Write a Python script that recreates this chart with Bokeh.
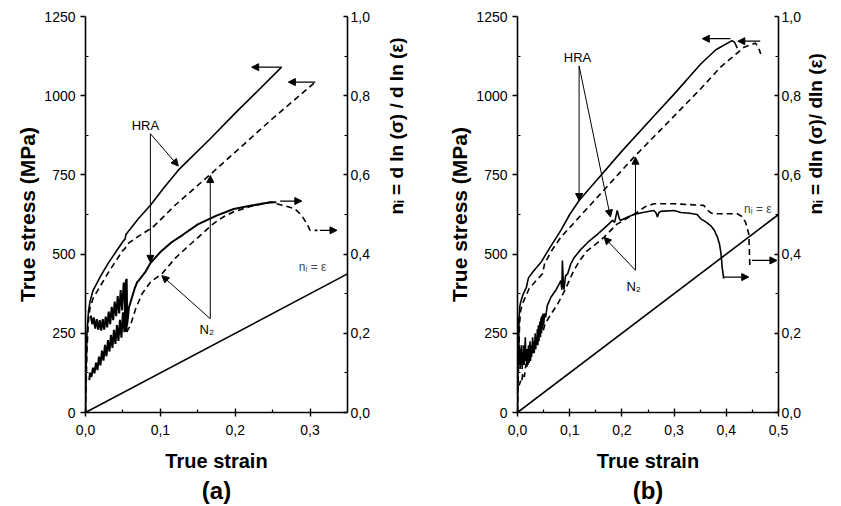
import math
from bokeh.plotting import figure
from bokeh.layouts import row
from bokeh.models import (Range1d, LinearAxis, FixedTicker, CustomJSTickFormatter,
                          Arrow, NormalHead, Label, Title)
from bokeh.embed import file_html
from bokeh.resources import INLINE

FONT = "Liberation Sans"

# ---------------- panel (a) data ----------------
A_HRA_STRESS_X = [0, 0.001, 0.002, 0.004, 0.006, 0.010, 0.020, 0.030, 0.040, 0.050, 0.053, 0.054,
                  0.070, 0.087, 0.105, 0.124, 0.167, 0.200, 0.230, 0.262]
A_HRA_STRESS_Y = [0, 150, 250, 320, 350, 385, 430, 470, 505, 540, 548, 562,
                  610, 655, 710, 765, 865, 945, 1015, 1090]

A_N2_STRESS_X = [0, 0.002, 0.004, 0.006, 0.010, 0.020, 0.030, 0.050, 0.053, 0.055, 0.070, 0.090,
                 0.120, 0.167, 0.200, 0.250, 0.307]
A_N2_STRESS_Y = [0, 200, 290, 330, 360, 400, 440, 512, 518, 530, 555, 585,
                 655, 752, 822, 928, 1043]

A_HRA_N_X = [0.007, 0.009, 0.011, 0.013, 0.015, 0.017, 0.019, 0.021, 0.023, 0.025, 0.027, 0.029,
             0.031, 0.033, 0.035, 0.037, 0.039, 0.041, 0.043, 0.045, 0.047, 0.049, 0.051, 0.053,
             0.054, 0.0545, 0.055, 0.0555, 0.057, 0.058, 0.062, 0.066, 0.069, 0.071, 0.080, 0.087,
             0.100, 0.115, 0.131, 0.150, 0.175, 0.198, 0.220, 0.247, 0.255]
A_HRA_N_Y = [0.245, 0.223, 0.240, 0.212, 0.236, 0.209, 0.233, 0.207, 0.236, 0.209, 0.242, 0.215,
             0.255, 0.223, 0.267, 0.233, 0.280, 0.243, 0.294, 0.250, 0.309, 0.258, 0.328, 0.268,
             0.336, 0.250, 0.338, 0.220, 0.245, 0.265, 0.290, 0.315, 0.329, 0.333, 0.355, 0.378,
             0.405, 0.430, 0.450, 0.475, 0.497, 0.514, 0.522, 0.531, 0.531]

A_N2_NBAND_X = [0.005, 0.006, 0.008, 0.010, 0.012, 0.014, 0.016, 0.018, 0.020, 0.022, 0.024, 0.026,
                0.028, 0.030, 0.032, 0.034, 0.036, 0.038, 0.040, 0.042, 0.044, 0.046, 0.048, 0.050,
                0.052, 0.053, 0.054, 0.0547, 0.055]
A_N2_NBAND_Y = [0.082, 0.100, 0.090, 0.113, 0.099, 0.126, 0.107, 0.141, 0.119, 0.156, 0.131, 0.171,
                0.142, 0.183, 0.154, 0.196, 0.163, 0.209, 0.173, 0.221, 0.181, 0.234, 0.189, 0.253,
                0.203, 0.280, 0.205, 0.308, 0.203]

A_N2_N_X = [0.055, 0.060, 0.067, 0.0756, 0.087, 0.098, 0.102, 0.120, 0.136, 0.155, 0.171, 0.185,
            0.198, 0.220, 0.247, 0.264, 0.280, 0.289, 0.296, 0.300, 0.310]
A_N2_N_Y = [0.203, 0.220, 0.262, 0.300, 0.330, 0.345, 0.350, 0.390, 0.418, 0.450, 0.477, 0.495,
            0.507, 0.520, 0.531, 0.523, 0.514, 0.497, 0.476, 0.460, 0.460]

A_EPS_X = [0, 0.35]
A_EPS_N = [0, 0.35]

# ---------------- panel (b) data ----------------
B_HRA_STRESS_X = [0, 0.001, 0.002, 0.004, 0.006, 0.010, 0.017, 0.019, 0.021, 0.030, 0.045, 0.060,
                  0.083, 0.100, 0.118, 0.150, 0.200, 0.261, 0.300, 0.351, 0.380, 0.411, 0.416, 0.421]
B_HRA_STRESS_Y = [0, 150, 260, 330, 348, 370, 395, 410, 425, 445, 474, 515,
                  575, 625, 669, 730, 825, 935, 1005, 1100, 1145, 1174, 1168, 1150]

B_N2_STRESS_X = [0, 0.002, 0.004, 0.006, 0.010, 0.022, 0.035, 0.048, 0.052, 0.065, 0.083, 0.120,
                 0.160, 0.223, 0.280, 0.351, 0.389, 0.434, 0.456, 0.462, 0.466]
B_N2_STRESS_Y = [0, 150, 280, 322, 345, 390, 415, 438, 470, 510, 553, 620,
                 692, 806, 902, 1022, 1090, 1153, 1166, 1150, 1132]

B_HRA_N_X = [0.000, 0.001, 0.002, 0.003, 0.004, 0.005, 0.006, 0.007, 0.008, 0.009, 0.010, 0.011,
             0.012, 0.013, 0.015, 0.016, 0.017, 0.018, 0.019, 0.020, 0.021, 0.022, 0.024, 0.025,
             0.026, 0.027, 0.029, 0.030, 0.031, 0.032, 0.034, 0.035, 0.036, 0.037, 0.038, 0.039,
             0.040, 0.041, 0.043, 0.044, 0.045, 0.046, 0.047, 0.048, 0.049, 0.050, 0.052, 0.054,
             0.057, 0.064, 0.073, 0.080, 0.083, 0.085, 0.086, 0.088, 0.089, 0.092, 0.096, 0.102,
             0.108, 0.120, 0.135, 0.153, 0.170, 0.182, 0.186, 0.191, 0.195, 0.197, 0.210, 0.223,
             0.240, 0.261, 0.265, 0.268, 0.271, 0.274, 0.300, 0.313, 0.330, 0.344, 0.351, 0.360,
             0.370, 0.377, 0.383, 0.387, 0.389, 0.391, 0.392, 0.395]
B_HRA_N_Y = [0.13, 0.15, 0.24, 0.12, 0.17, 0.11, 0.16, 0.12, 0.17, 0.11, 0.15, 0.12,
             0.17, 0.12, 0.19, 0.13, 0.16, 0.115, 0.16, 0.12, 0.17, 0.13, 0.18, 0.13,
             0.17, 0.14, 0.19, 0.15, 0.18, 0.15, 0.20, 0.16, 0.19, 0.17, 0.21, 0.17,
             0.22, 0.18, 0.23, 0.19, 0.24, 0.20, 0.245, 0.21, 0.25, 0.22, 0.25, 0.24,
             0.27, 0.291, 0.308, 0.325, 0.333, 0.310, 0.384, 0.320, 0.310, 0.345, 0.350, 0.375,
             0.390, 0.410, 0.430, 0.450, 0.470, 0.485, 0.480, 0.510, 0.490, 0.485, 0.493, 0.500,
             0.505, 0.510, 0.505, 0.494, 0.505, 0.508, 0.510, 0.505, 0.503, 0.500, 0.489, 0.482,
             0.472, 0.460, 0.443, 0.425, 0.409, 0.385, 0.367, 0.338]

B_N2_N_X = [0.003, 0.006, 0.008, 0.010, 0.013, 0.016, 0.019, 0.022, 0.025, 0.028, 0.032, 0.035,
            0.038, 0.041, 0.045, 0.049, 0.052, 0.057, 0.065, 0.077, 0.092, 0.108, 0.120, 0.134,
            0.150, 0.166, 0.190, 0.223, 0.245, 0.261, 0.300, 0.357, 0.365, 0.372, 0.383, 0.421,
            0.430, 0.437, 0.443, 0.444, 0.445]
B_N2_N_Y = [0.068, 0.080, 0.075, 0.100, 0.090, 0.120, 0.130, 0.125, 0.155, 0.150, 0.174, 0.170,
            0.190, 0.185, 0.208, 0.205, 0.220, 0.233, 0.250, 0.274, 0.312, 0.359, 0.385, 0.409,
            0.425, 0.443, 0.475, 0.500, 0.520, 0.527, 0.527, 0.523, 0.510, 0.503, 0.502, 0.502,
            0.495, 0.480, 0.451, 0.420, 0.371]

B_EPS_X = [0, 0.5]
B_EPS_N = [0, 0.5]

STRESS_TICKS = [0, 250, 500, 750, 1000, 1250]
STRESS_MINOR = [125, 375, 625, 875, 1125]
N_TICKS = [0.0, 0.2, 0.4, 0.6, 0.8, 1.0]
N_MINOR = [0.1, 0.3, 0.5, 0.7, 0.9]
A_STRAIN_TICKS = [0.0, 0.1, 0.2, 0.3]
A_STRAIN_MINOR = [0.05, 0.15, 0.25]
B_STRAIN_TICKS = [0.0, 0.1, 0.2, 0.3, 0.4, 0.5]
B_STRAIN_MINOR = [0.05, 0.15, 0.25, 0.35, 0.45]


def style_axis(ax, size):
    ax.axis_line_width = 1.6
    ax.axis_line_color = "black"
    ax.major_tick_line_width = 1.4
    ax.minor_tick_line_width = 1.2
    ax.major_tick_line_color = "black"
    ax.minor_tick_line_color = "black"
    ax.major_label_text_font = FONT
    ax.major_label_text_font_size = "14px"
    ax.major_label_text_color = "black"
    ax.axis_label_text_font = FONT
    ax.axis_label_text_font_style = "bold"
    ax.axis_label_text_font_size = size
    ax.axis_label_text_color = "black"


def head():
    return NormalHead(size=7, fill_color="black", line_color="black", line_width=1)


def make_panel(width, xmax, xt, xm, lb, rb, right_title, right_standoff, tag):
    p = figure(width=width, height=505, x_range=Range1d(0, xmax), y_range=Range1d(0, 1250),
               output_backend="svg", toolbar_location=None,
               min_border_left=lb, min_border_right=rb, min_border_top=16, min_border_bottom=93)
    p.extra_y_ranges = {"n": Range1d(0, 1)}
    p.outline_line_color = None
    p.grid.visible = False
    p.background_fill_color = "white"
    p.border_fill_color = "white"

    xa = p.xaxis[0]
    style_axis(xa, "20px")
    xa.ticker = FixedTicker(ticks=xt, minor_ticks=xm)
    xa.formatter = CustomJSTickFormatter(code="return tick.toFixed(1).replace('.', ',');")
    xa.axis_label = "True strain"
    xa.major_tick_in = 4
    xa.major_tick_out = 4
    xa.minor_tick_in = 3
    xa.minor_tick_out = 0
    xa.major_label_standoff = 8
    xa.axis_label_standoff = 12

    ya = p.yaxis[0]
    style_axis(ya, "21px")
    ya.ticker = FixedTicker(ticks=STRESS_TICKS, minor_ticks=STRESS_MINOR)
    ya.formatter = CustomJSTickFormatter(code="return tick.toFixed(0);")
    ya.axis_label = "True stress (MPa)"
    ya.major_tick_in = 0
    ya.major_tick_out = 5
    ya.minor_tick_in = 3
    ya.minor_tick_out = 0
    ya.major_label_standoff = 5
    ya.axis_label_standoff = 2

    ra = LinearAxis(y_range_name="n")
    style_axis(ra, "19px")
    ra.ticker = FixedTicker(ticks=N_TICKS, minor_ticks=N_MINOR)
    ra.formatter = CustomJSTickFormatter(code="return tick.toFixed(1).replace('.', ',');")
    ra.axis_label = right_title
    ra.axis_label_orientation = math.pi / 2
    ra.major_tick_in = 4
    ra.major_tick_out = 0
    ra.minor_tick_in = 3
    ra.minor_tick_out = 0
    ra.major_label_standoff = 3
    ra.axis_label_standoff = right_standoff
    p.add_layout(ra, "right")

    p.add_layout(Title(text=tag, align="center", text_font=FONT, text_font_size="24px",
                       text_font_style="bold", text_color="black", standoff=0), "below")
    return p


def lab(p, x, y, text, size="13px"):
    p.add_layout(Label(x=x, y=y, text=text, text_align="center", text_baseline="middle",
                       text_font=FONT, text_font_size=size, text_color="black"))


def arr(p, x0, y0, x1, y1, rng=None, lw=1.2):
    kw = {}
    if rng:
        kw["y_range_name"] = rng
    p.add_layout(Arrow(x_start=x0, y_start=y0, x_end=x1, y_end=y1, end=head(),
                       line_color="black", line_width=lw, **kw))


LW = 1.6
BAND_LW = 2.0
DASH = "6 4"

# ---------------- panel (a) ----------------
pa = make_panel(420, 0.35, A_STRAIN_TICKS, A_STRAIN_MINOR, 85, 73,
                "n\u1d62 = d ln (\u03c3) / d ln (\u03b5)", 24, "(a)")
pa.line(A_HRA_STRESS_X, A_HRA_STRESS_Y, line_color="black", line_width=LW)
pa.line(A_N2_STRESS_X, A_N2_STRESS_Y, line_color="black", line_width=LW, line_dash=DASH)
pa.line(A_HRA_N_X, A_HRA_N_Y, line_color="black", line_width=BAND_LW, y_range_name="n")
pa.line(A_N2_NBAND_X, A_N2_NBAND_Y, line_color="black", line_width=BAND_LW, y_range_name="n")
pa.line(A_N2_N_X, A_N2_N_Y, line_color="black", line_width=LW, line_dash=DASH, y_range_name="n")
pa.line(A_EPS_X, A_EPS_N, line_color="black", line_width=LW, y_range_name="n")

arr(pa, 0.262, 1090, 0.222, 1090)
arr(pa, 0.307, 1043, 0.271, 1043)
arr(pa, 0.260, 0.534, 0.289, 0.534, "n")
arr(pa, 0.313, 0.460, 0.336, 0.460, "n")
lab(pa, 0.080, 905, "HRA")
arr(pa, 0.0867, 880, 0.0867, 474, lw=1)
arr(pa, 0.0867, 880, 0.124, 778, lw=1)
lab(pa, 0.162, 262, "N\u2082")
arr(pa, 0.1667, 296, 0.1667, 748, lw=1)
arr(pa, 0.1667, 296, 0.102, 432, lw=1)
pa.add_layout(Label(x=0.285, y=458, text="n\u1d62 = \u03b5", text_align="left",
                    text_baseline="middle", text_font=FONT, text_font_size="12px"))

# ---------------- panel (b) ----------------
pb = make_panel(420, 0.5, B_STRAIN_TICKS, B_STRAIN_MINOR, 97, 62,
                "n\u1d62 = dln (\u03c3)/ dln (\u03b5)", 12, "(b)")
pb.line(B_HRA_STRESS_X, B_HRA_STRESS_Y, line_color="black", line_width=LW)
pb.line(B_N2_STRESS_X, B_N2_STRESS_Y, line_color="black", line_width=LW, line_dash=DASH)
pb.line(B_HRA_N_X, B_HRA_N_Y, line_color="black", line_width=LW, y_range_name="n")
pb.line(B_N2_N_X, B_N2_N_Y, line_color="black", line_width=LW, line_dash=DASH, y_range_name="n")
pb.line(B_EPS_X, B_EPS_N, line_color="black", line_width=LW, y_range_name="n")

arr(pb, 0.408, 1180, 0.354, 1180)
arr(pb, 0.465, 1172, 0.422, 1172)
arr(pb, 0.395, 0.342, 0.443, 0.342, "n")
arr(pb, 0.449, 0.384, 0.497, 0.384, "n")
lab(pb, 0.115, 1121, "HRA")
arr(pb, 0.118, 1094, 0.118, 669, lw=1)
arr(pb, 0.118, 1094, 0.178, 617, lw=1)
lab(pb, 0.2226, 398, "N\u2082")
arr(pb, 0.226, 449, 0.226, 806, lw=1)
arr(pb, 0.226, 449, 0.166, 553, lw=1)
pb.add_layout(Label(x=0.434, y=643, text="n\u1d62 = \u03b5", text_align="left",
                    text_baseline="middle", text_font=FONT, text_font_size="12px"))

layout = row(pa, pb)
open("out.html", "w").write(file_html(layout, INLINE))
